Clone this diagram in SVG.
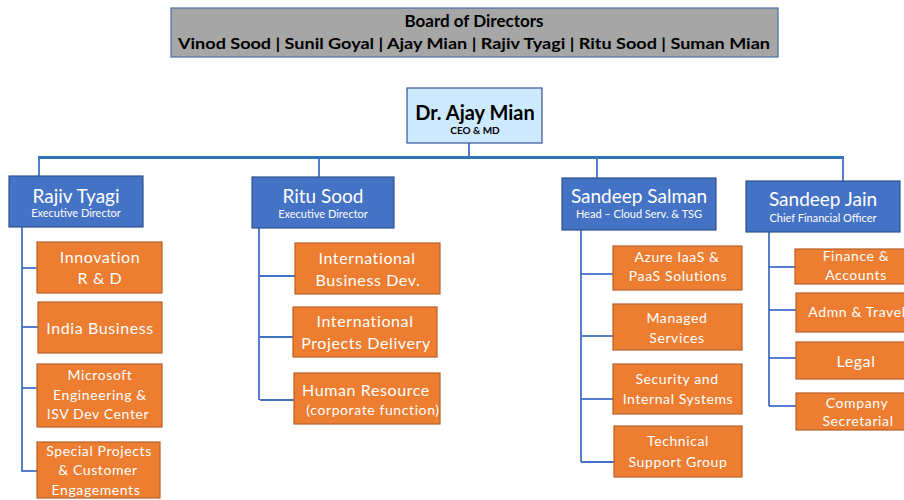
<svg xmlns="http://www.w3.org/2000/svg" width="904" height="500" viewBox="0 0 904 500">
<style>
.board{fill:#a6a6a6;stroke:#4a6fa5;stroke-width:1.2}
.ceo{fill:#cde9fd;stroke:#2f5597;stroke-width:1.2}
.dir{fill:#4472c4;stroke:#2f528f;stroke-width:1.2}
.unit{fill:#ed7d31;stroke:#b5622a;stroke-width:1.2}
.lines line{stroke:#4472c4;stroke-width:1.8;fill:none}
.lines line.bus{stroke:#2e75b6;stroke-width:3}
text{font-family:Lato,"Open Sans","Liberation Sans",sans-serif;text-anchor:middle}
.bt{font-weight:bold;fill:#000}
.dn{fill:#fff;font-size:19px}
.dt{fill:#fff;font-size:11px}
.ut{fill:#fff;font-size:16px;letter-spacing:0.6px}
.us{fill:#fff;font-size:14px;letter-spacing:0.6px}
</style>
<g id="board">
<rect class="board" x="171" y="8" width="607" height="49"/>
<text class="bt" x="474" y="27" font-size="17">Board of Directors</text>
<text class="bt" x="474" y="49" font-size="16" textLength="592" lengthAdjust="spacingAndGlyphs">Vinod Sood | Sunil Goyal | Ajay Mian  | Rajiv Tyagi | Ritu Sood | Suman Mian</text>
</g>
<g id="connectors" class="lines">
<line x1="469" y1="143" x2="469" y2="157"/>
<line class="bus" x1="38" y1="157.5" x2="844" y2="157.5"/>
<line x1="39" y1="157" x2="39" y2="176"/>
<line x1="319" y1="157" x2="319" y2="177"/>
<line x1="597" y1="157" x2="597" y2="178"/>
<line x1="843" y1="157" x2="843" y2="181"/>
<line x1="22" y1="227" x2="22" y2="471"/>
<line x1="21" y1="268" x2="37" y2="268"/>
<line x1="21" y1="327" x2="38" y2="327"/>
<line x1="21" y1="388" x2="37" y2="388"/>
<line x1="21" y1="471" x2="37" y2="471"/>
<line x1="259" y1="228" x2="259" y2="400"/>
<line x1="259" y1="276" x2="295" y2="276"/>
<line x1="259" y1="337" x2="293" y2="337"/>
<line x1="260" y1="400" x2="294" y2="400"/>
<line x1="581" y1="230" x2="581" y2="462"/>
<line x1="581" y1="274" x2="613" y2="274"/>
<line x1="581" y1="336" x2="613" y2="336"/>
<line x1="581" y1="399" x2="613" y2="399"/>
<line x1="581" y1="462" x2="614" y2="462"/>
<line x1="769" y1="232" x2="769" y2="406"/>
<line x1="768" y1="267" x2="795" y2="267"/>
<line x1="769" y1="310" x2="796" y2="310"/>
<line x1="768" y1="358" x2="796" y2="358"/>
<line x1="769" y1="406" x2="796" y2="406"/>
</g>
<g id="ceo">
<rect class="ceo" x="407" y="88" width="135" height="55"/>
<text class="bt" x="475" y="120" font-size="20">Dr. Ajay Mian</text>
<text class="bt" x="475" y="134" font-size="10">CEO &amp; MD</text>
</g>
<g id="rajiv">
<rect class="dir" x="9" y="176" width="134" height="51"/>
<text class="dn" x="76" y="203">Rajiv Tyagi</text>
<text class="dt" x="76" y="217">Executive Director</text>
</g>
<g id="ritu">
<rect class="dir" x="252" y="177" width="142" height="51"/>
<text class="dn" x="323" y="203">Ritu Sood</text>
<text class="dt" x="323" y="218">Executive Director</text>
</g>
<g id="salman">
<rect class="dir" x="562" y="178" width="154" height="52"/>
<text class="dn" x="639" y="203">Sandeep Salman</text>
<text class="dt" x="639" y="218">Head – Cloud Serv. &amp; TSG</text>
</g>
<g id="jain">
<rect class="dir" x="746" y="181" width="154" height="51"/>
<text class="dn" x="823" y="206">Sandeep Jain</text>
<text class="dt" x="823" y="222">Chief Financial Officer</text>
</g>
<g id="innovation">
<rect class="unit" x="37" y="242" width="125" height="51"/>
<text class="ut" x="100" y="263">Innovation</text>
<text class="ut" x="100" y="284">R &amp; D</text>
</g>
<g id="india">
<rect class="unit" x="38" y="302" width="124" height="51"/>
<text class="ut" x="100" y="334">India Business</text>
</g>
<g id="microsoft">
<rect class="unit" x="37" y="364" width="125" height="63"/>
<text class="us" x="100" y="380">Microsoft</text>
<text class="us" x="100" y="400">Engineering &amp;</text>
<text class="us" x="98" y="419">ISV Dev Center</text>
</g>
<g id="special">
<rect class="unit" x="37" y="442" width="123" height="56"/>
<text class="us" x="99" y="456">Special Projects</text>
<text class="us" x="98" y="475">&amp; Customer</text>
<text class="us" x="96" y="495">Engagements</text>
</g>
<g id="ibd">
<rect class="unit" x="295" y="243" width="145" height="51"/>
<text class="ut" x="367" y="264">International</text>
<text class="ut" x="368" y="286">Business Dev.</text>
</g>
<g id="ipd">
<rect class="unit" x="293" y="307" width="144" height="50"/>
<text class="ut" x="365" y="327">International</text>
<text class="ut" x="366" y="349">Projects Delivery</text>
</g>
<g id="hr">
<rect class="unit" x="294" y="373" width="146" height="51"/>
<text class="ut" x="366" y="396">Human Resource</text>
<text class="us" x="373" y="415" font-size="13">(corporate function)</text>
</g>
<g id="azure">
<rect class="unit" x="613" y="246" width="129" height="44"/>
<text class="us" x="677" y="262">Azure IaaS &amp;</text>
<text class="us" x="678" y="281">PaaS Solutions</text>
</g>
<g id="managed">
<rect class="unit" x="613" y="304" width="129" height="46"/>
<text class="us" x="677" y="323">Managed</text>
<text class="us" x="677" y="343">Services</text>
</g>
<g id="security">
<rect class="unit" x="613" y="364" width="129" height="50"/>
<text class="us" x="677" y="384">Security and</text>
<text class="us" x="678" y="404">Internal Systems</text>
</g>
<g id="tsg">
<rect class="unit" x="614" y="426" width="128" height="51"/>
<text class="us" x="678" y="446">Technical</text>
<text class="us" x="678" y="467">Support Group</text>
</g>
<g id="finance">
<rect class="unit" x="795" y="249" width="122" height="35"/>
<text class="us" x="856" y="261">Finance &amp;</text>
<text class="us" x="856" y="280">Accounts</text>
</g>
<g id="admn">
<rect class="unit" x="796" y="293" width="121" height="39"/>
<text class="us" x="857" y="317">Admn &amp; Travel</text>
</g>
<g id="legal">
<rect class="unit" x="796" y="342" width="121" height="37"/>
<text class="ut" x="856" y="367" font-size="16">Legal</text>
</g>
<g id="company">
<rect class="unit" x="796" y="393" width="121" height="37"/>
<text class="us" x="857" y="408">Company</text>
<text class="us" x="858" y="426">Secretarial</text>
</g>
</svg>
